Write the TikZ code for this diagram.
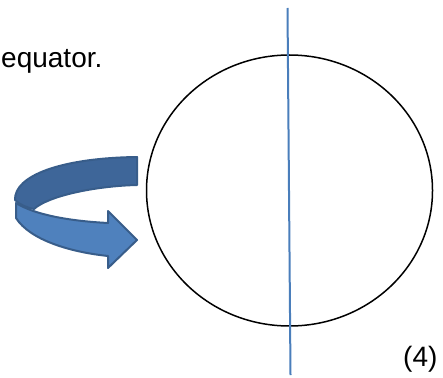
\documentclass[tikz,border=0pt]{standalone}
\usepackage{fontspec}
\setmainfont{Liberation Sans}
\usetikzlibrary{shapes.geometric}
\definecolor{arrowdark}{RGB}{62,102,153}
\definecolor{arrowlight}{RGB}{79,129,189}
\definecolor{arrowedge}{RGB}{56,93,138}
\definecolor{axisblue}{RGB}{74,126,187}
\tikzset{
  lbl/.style={inner sep=0pt, font=\fontsize{28}{32}\selectfont, anchor=base west},
  band/.style={draw=arrowedge, line width=2pt, line join=round},
}
\begin{document}
\begin{tikzpicture}[x=1pt,y=-1pt]
\useasboundingbox (0,0) rectangle (443,377);
% globe
\node[ellipse, draw=black, line width=1.5pt, minimum width=286pt, minimum height=271pt, inner sep=0pt] (globe) at (289.5,190.5) {};
\coordinate (axtop) at (287.5,8);
\coordinate (axbot) at (290.5,375);
\draw[axisblue, line width=2pt] (axtop) -- (axbot);
% rotation arrow: front (light) band with head
\fill[arrowlight, band] (16,203) -- (16,218) .. controls (30,240) and (70,252) .. (108,256)
  -- (108,268) -- (137,240) -- (108,211) -- (108,223)
  .. controls (70,221) and (35,215) .. (16,203) -- cycle;
% back (dark) band
\fill[arrowdark, band] (137,157) .. controls (60,158) and (14,176) .. (15,200)
  .. controls (20,205) and (28,208) .. (34,209)
  .. controls (48,196) and (95,186) .. (137,185) -- cycle;
% texts
\node[lbl] (eq) at (1,67) {equator.};
\node[lbl] (num) at (403,366) {(4)};
\end{tikzpicture}
\end{document}
